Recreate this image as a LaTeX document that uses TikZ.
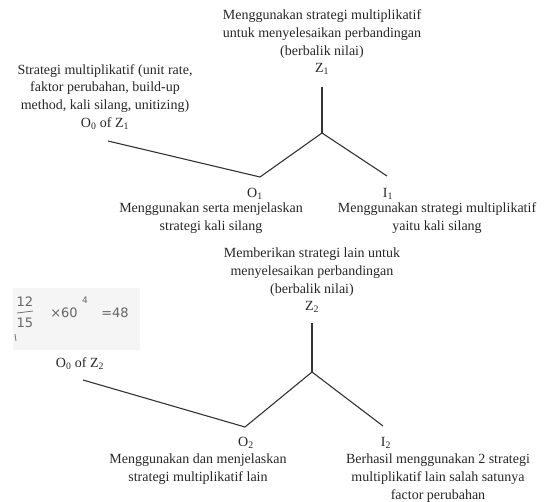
\documentclass[tikz,border=0pt]{standalone}
\usepackage{fontspec}
\setmainfont{Liberation Serif}
\newfontfamily\handfont{DejaVu Sans}
\begin{document}
\begin{tikzpicture}[x=1pt,y=-1pt,
  lbl/.style={align=center, inner sep=0pt, font=\fontsize{14}{17.7}\selectfont, text=black!85},
  conn/.style={line width=1.1pt, draw=black!80},
  hand/.style={inner sep=0pt, font=\fontsize{13}{14}\handfont\selectfont, text=black!60}]
\useasboundingbox (0,0) rectangle (548,501);

% ---------- Z1 part ----------
\node[lbl] (z1txt) at (322,34) {Menggunakan strategi multiplikatif\\untuk menyelesaikan perbandingan\\(berbalik nilai)};
\node[lbl] (z1) at (322,69) {Z\textsubscript{1}};
\node[lbl] (o0z1) at (105,97) {Strategi multiplikatif (unit rate,\\faktor perubahan, build-up\\method, kali silang, unitizing)\\O\textsubscript{0} of Z\textsubscript{1}};
\node[lbl] (o1) at (255,194) {O\textsubscript{1}};
\node[lbl] (o1txt) at (211,218) {Menggunakan serta menjelaskan\\strategi kali silang};
\node[lbl] (i1) at (388,194) {I\textsubscript{1}};
\node[lbl] (i1txt) at (437,218) {Menggunakan strategi multiplikatif\\yaitu kali silang};

\coordinate (z1top) at (322,87);
\coordinate (b1) at (322,133);
\coordinate (o1j) at (260,177);
\coordinate (i1e) at (387,176);
\coordinate (o0s1) at (108,141);

\draw[conn] (z1top) -- (b1);
\draw[conn] (b1) -- (o1j);
\draw[conn] (b1) -- (i1e);
\draw[conn] (o0s1) -- (o1j);

% ---------- Z2 part ----------
\node[lbl] (z2txt) at (312,272) {Memberikan strategi lain untuk\\menyelesaikan perbandingan\\(berbalik nilai)};
\node[lbl] (z2) at (312,307) {Z\textsubscript{2}};
\node[lbl] (o0z2) at (80,364) {O\textsubscript{0} of Z\textsubscript{2}};
\node[lbl] (o2) at (246,443) {O\textsubscript{2}};
\node[lbl] (o2txt) at (198,469) {Menggunakan dan menjelaskan\\strategi multiplikatif lain};
\node[lbl] (i2) at (386,443) {I\textsubscript{2}};
\node[lbl] (i2txt) at (438,478) {Berhasil menggunakan 2 strategi\\multiplikatif lain salah satunya\\factor perubahan};

\coordinate (z2top) at (312,323);
\coordinate (b2) at (312,372);
\coordinate (o2j) at (245,427);
\coordinate (i2e) at (383,426);
\coordinate (o0s2) at (83,380);

\draw[conn] (z2top) -- (b2);
\draw[conn] (b2) -- (o2j);
\draw[conn] (b2) -- (i2e);
\draw[conn] (o0s2) -- (o2j);

% ---------- handwritten note ----------
\fill[black!4] (13,288) rectangle (140,350);
\node[hand] (h12) at (25,302) {12};
\coordinate (hbarL) at (17,313);
\coordinate (hbarR) at (33,311);
\draw[black!55, line width=0.8pt] (hbarL) -- (hbarR);
\node[hand] (h15) at (25,323) {15};
\node[hand] (hx60) at (64,313) {×60};
\node[hand, font=\fontsize{9}{10}\handfont\selectfont] (h4) at (85,300) {4};
\node[hand] (h48) at (115,313) {=48};
\coordinate (tickA) at (15,334);
\coordinate (tickB) at (16,341);
\draw[black!55, line width=0.8pt] (tickA) -- (tickB);
\end{tikzpicture}
\end{document}
